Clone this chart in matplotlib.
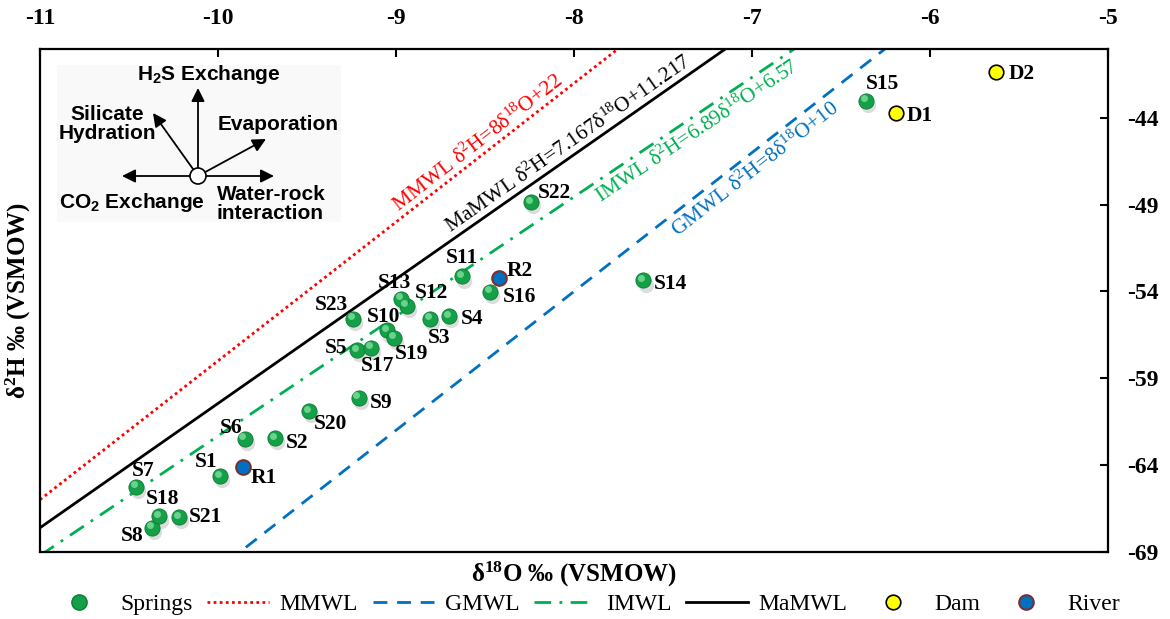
import numpy as np
import matplotlib.pyplot as plt
from matplotlib.lines import Line2D
from matplotlib.patches import Circle, Rectangle
from matplotlib.transforms import ScaledTranslation

plt.rcParams['font.family'] = ['Liberation Serif', 'DejaVu Serif']
plt.rcParams['mathtext.default'] = 'regular'
plt.rcParams['axes.unicode_minus'] = False

# springs
spring_names = ['S1', 'S2', 'S3', 'S4', 'S5', 'S6', 'S7', 'S8', 'S9', 'S10', 'S11', 'S12',
                'S13', 'S14', 'S15', 'S16', 'S17', 'S18', 'S19', 'S20', 'S21', 'S22', 'S23']
spring_o18 = [-9.99, -9.68, -8.81, -8.70, -9.22, -9.85, -10.46, -10.37, -9.21, -9.05, -8.63, -8.94,
              -8.97, -7.61, -6.36, -8.47, -9.14, -10.33, -9.01, -9.49, -10.22, -8.24, -9.24]
spring_h2 = [-64.64, -62.45, -55.58, -55.43, -57.39, -62.49, -65.27, -67.63, -60.13, -56.25, -53.13, -54.82,
             -54.43, -53.36, -43.02, -54.03, -57.25, -66.97, -56.67, -60.90, -67.00, -48.85, -55.58]

# dam
dam_names = ['D1', 'D2']
dam_o18 = [-6.19, -5.63]
dam_h2 = [-43.73, -41.33]

# river
river_names = ['R1', 'R2']
river_o18 = [-9.86, -8.42]
river_h2 = [-64.12, -53.22]

# meteoric water lines  d2H = a*d18O + b
mwl_names = ['MMWL', 'GMWL', 'IMWL', 'MaMWL']
mwl_slope = [8, 8, 6.89, 7.167]
mwl_icpt = [22, 10, 6.57, 11.217]
mwl_eq = ['MMWL δ$^{2}$H=8δ$^{18}$O+22', 'GMWL δ$^{2}$H=8δ$^{18}$O+10',
          'IMWL δ$^{2}$H=6.89δ$^{18}$O+6.57', 'MaMWL δ$^{2}$H=7.167δ$^{18}$O+11.217']

# label offsets in pixels (dx right, dy down)
lab_off = {'S1': (-14, -14), 'S2': (22, 5), 'S3': (9, 19), 'S4': (23, 3), 'S5': (-21, -2),
           'S6': (-14, -11), 'S7': (7, -16), 'S8': (-20, 8), 'S9': (22, 5), 'S10': (-4, -13),
           'S11': (0, -18), 'S12': (25, -13), 'S13': (-7, -16), 'S14': (27, 4), 'S15': (17, -17),
           'S16': (29, 5), 'S17': (6, 18), 'S18': (3, -17), 'S19': (17, 16), 'S20': (22, 13),
           'S21': (27, 0), 'S22': (23, -9), 'S23': (-22, -14), 'D1': (24, 3), 'D2': (26, 2),
           'R1': (21, 11), 'R2': (21, -7)}
line_style = {'MMWL': ('#ff0000', (0, (1, 1.2))), 'GMWL': ('#0070c0', (0, (5, 3.5))),
              'IMWL': ('#00b050', (0, (6, 3, 1, 3))), 'MaMWL': ('black', '-')}
eq_pos = {'MMWL': (-8.54, -45.44), 'GMWL': (-6.98, -46.99), 'IMWL': (-7.31, -44.78), 'MaMWL': (-8.03, -45.49)}

fig = plt.figure(figsize=(11.7, 6.19), dpi=100)
ax = fig.add_axes([0.0342, 0.1087, 0.9128, 0.8129])
ax.set_xlim(-11, -5)
ax.set_ylim(-69, -40)

xs = np.linspace(-11, -5, 50)
for name, a, b in zip(mwl_names, mwl_slope, mwl_icpt):
    col, ls = line_style[name]
    ax.plot(xs, a * xs + b, color=col, ls=ls, lw=2, zorder=2)

# springs: shadow, sphere, highlight
shadow = ax.transData + ScaledTranslation(1.5 / 72, -3 / 72, fig.dpi_scale_trans)
hl = ax.transData + ScaledTranslation(-1.6 / 72, 1.8 / 72, fig.dpi_scale_trans)
ax.scatter(spring_o18, spring_h2, s=120, color='#bbbbbb', alpha=0.5, linewidths=0,
           transform=shadow, zorder=3)
ax.scatter(spring_o18, spring_h2, s=120, color='#14a046', edgecolors='#0d7a34', linewidths=0.6, zorder=4)
ax.scatter(spring_o18, spring_h2, s=25, color='#7fe0a0', alpha=0.8, linewidths=0, transform=hl, zorder=5)
ax.scatter(dam_o18, dam_h2, s=110, color='#ffff00', edgecolors='black', linewidths=1.2, zorder=4)
ax.scatter(river_o18, river_h2, s=110, color='#0070c0', edgecolors='#7b3030', linewidths=1.5, zorder=4)

for names, xv, yv in [(spring_names, spring_o18, spring_h2), (dam_names, dam_o18, dam_h2),
                      (river_names, river_o18, river_h2)]:
    for n, xx, yy in zip(names, xv, yv):
        dx, dy = lab_off[n]
        ax.annotate(n, (xx, yy), xytext=(dx, -dy), textcoords='offset pixels', ha='center',
                    va='center', fontsize=15.5, fontweight='bold', zorder=6)

# equation labels along the lines
for name, a, txt in zip(mwl_names, mwl_slope, mwl_eq):
    p0 = ax.transData.transform((-10, -10 * a))
    p1 = ax.transData.transform((-9, -9 * a))
    ang = np.degrees(np.arctan2(p1[1] - p0[1], p1[0] - p0[0]))
    ax.text(*eq_pos[name], txt, rotation=ang, rotation_mode='anchor', ha='center', va='center',
            fontsize=15.5, color=line_style[name][0], zorder=6)

ax.xaxis.tick_top()
ax.yaxis.tick_right()
ax.xaxis.set_label_position('bottom')
ax.yaxis.set_label_position('left')
ax.set_xticks(np.arange(-11, -4, 1))
ax.set_yticks([-69, -64, -59, -54, -49, -44])
ax.tick_params(direction='in', length=6, width=1.5, labelsize=17, pad=14)
for lab in ax.get_xticklabels() + ax.get_yticklabels():
    lab.set_fontweight('bold')
for sp in ax.spines.values():
    sp.set_linewidth(1.6)
ax.set_xlabel('δ$^{18}$O ‰ (VSMOW)', fontsize=18, fontweight='bold', labelpad=6)
ax.set_ylabel('δ$^{2}$H ‰ (VSMOW)', fontsize=18, fontweight='bold', labelpad=5)

# legend
handles = [
    Line2D([], [], ls='none', marker='o', ms=11, color='#14a046', mec='#0d7a34'),
    Line2D([], [], color=line_style['MMWL'][0], ls=line_style['MMWL'][1], lw=2),
    Line2D([], [], color=line_style['GMWL'][0], ls=line_style['GMWL'][1], lw=2),
    Line2D([], [], color=line_style['IMWL'][0], ls=line_style['IMWL'][1], lw=2),
    Line2D([], [], color='black', lw=2),
    Line2D([], [], ls='none', marker='o', ms=10.5, color='#ffff00', mec='black', mew=1.2),
    Line2D([], [], ls='none', marker='o', ms=10.5, color='#0070c0', mec='#7b3030', mew=1.5),
]
labels = ['Springs', 'MMWL', 'GMWL', 'IMWL', 'MaMWL', 'Dam', 'River']
fig.legend(handles, labels, loc='center', bbox_to_anchor=(0.499, 0.024), ncol=7, frameon=False,
           fontsize=17, handlelength=2.6, handletextpad=0.45, columnspacing=0.63)

# process diagram (schematic, pixel coordinates)
ov = fig.add_axes([0, 0, 1, 1], zorder=5)
ov.set_xlim(0, 1170)
ov.set_ylim(619, 0)
ov.axis('off')
ov.add_patch(Rectangle((57, 65), 284, 157, fc='#f9f9f9', ec='none', zorder=0))
c = (198, 176)
for tip in [(198, 88), (153, 113), (266, 139), (122, 176), (274, 176)]:
    ov.annotate('', xy=tip, xytext=c, arrowprops=dict(arrowstyle='-|>', color='black', lw=1.3,
                mutation_scale=20, shrinkA=0, shrinkB=0), zorder=2)
ov.add_patch(Circle(c, 8, fc='white', ec='black', lw=1.2, zorder=3))
sans = dict(family=['Liberation Sans', 'DejaVu Sans'], fontweight='bold', fontsize=15, zorder=4)
ov.text(209, 75, 'H$_2$S Exchange', ha='center', va='center', **sans)
ov.text(107, 124, 'Silicate\nHydration', ha='center', va='center', linespacing=1.05, **sans)
ov.text(218, 125, 'Evaporation', ha='left', va='center', **sans)
ov.text(132, 202, 'CO$_2$ Exchange', ha='center', va='center', **sans)
ov.text(217, 204, 'Water-rock\ninteraction', ha='left', va='center', linespacing=1.05, **sans)

fig.savefig('out.png', dpi=100)
